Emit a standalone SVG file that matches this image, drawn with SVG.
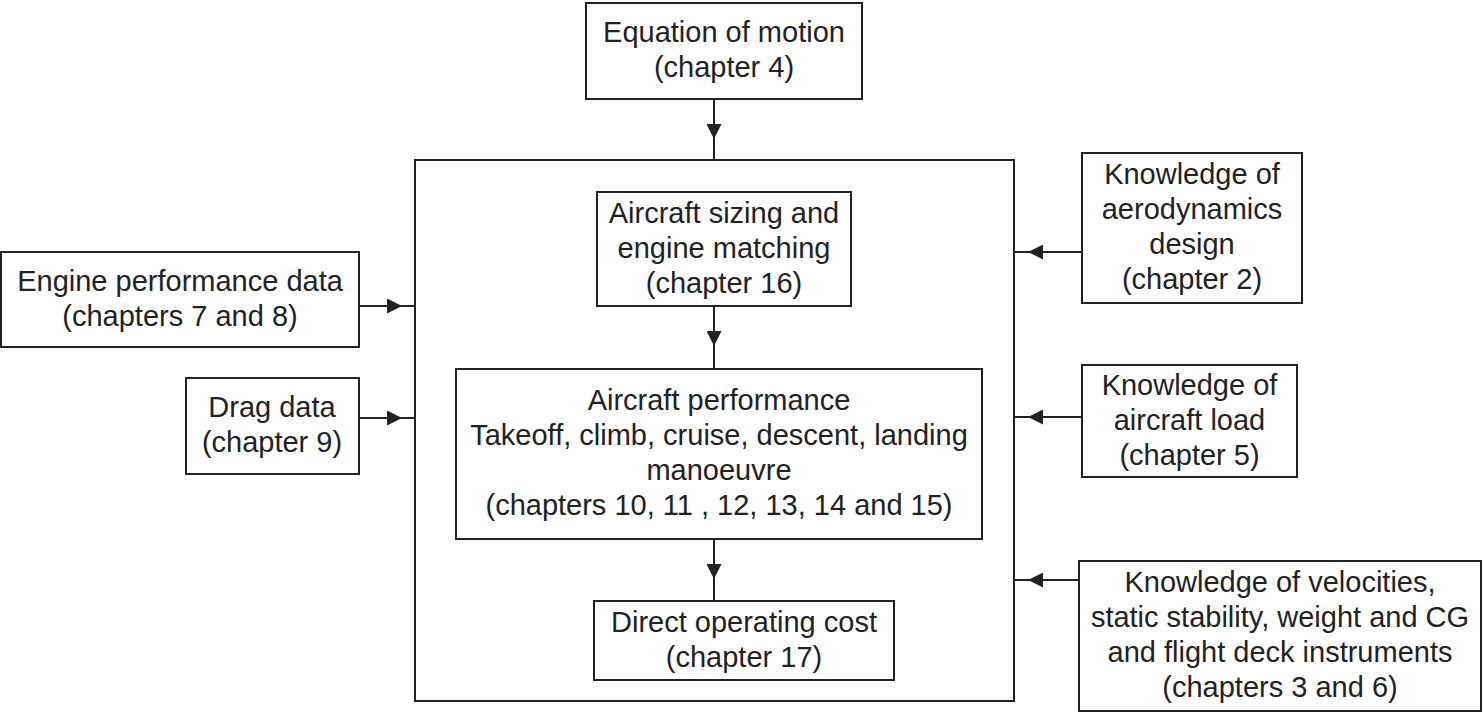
<svg xmlns="http://www.w3.org/2000/svg" width="1483" height="713" viewBox="0 0 1483 713">
<defs>
<style>
.box{fill:#fff;stroke:#222;stroke-width:2}
.t{font-family:"Liberation Sans",Arial,sans-serif;font-size:29px;fill:#222;text-anchor:middle}
.c{fill:none;stroke:#222;stroke-width:2;marker-mid:url(#ah)}
</style>
<marker id="ah" markerUnits="userSpaceOnUse" markerWidth="15" markerHeight="15" refX="15" refY="7.5" orient="auto" viewBox="0 0 15 15">
<path d="M0,0 L15,7.5 L0,15 z" fill="#222"/>
</marker>
</defs>
<rect width="1483" height="713" fill="#fff"/>
<g id="container"><rect x="415" y="160" width="599" height="541" fill="none" stroke="#222" stroke-width="2"/></g>
<g id="equation"><rect class="box" x="586" y="3" width="276" height="96"/>
<text class="t" x="724" y="42">Equation of motion</text><text class="t" x="724" y="77">(chapter 4)</text></g>
<g id="engine"><rect class="box" x="1" y="252" width="358" height="95"/>
<text class="t" x="180" y="291">Engine performance data</text><text class="t" x="180" y="326">(chapters 7 and 8)</text></g>
<g id="drag"><rect class="box" x="186" y="378" width="173" height="96"/>
<text class="t" x="272" y="417">Drag data</text><text class="t" x="272" y="452">(chapter 9)</text></g>
<g id="sizing"><rect class="box" x="597" y="192" width="254" height="114"/>
<text class="t" x="724" y="223">Aircraft sizing and</text><text class="t" x="724" y="258">engine matching</text><text class="t" x="724" y="293">(chapter 16)</text></g>
<g id="performance"><rect class="box" x="456" y="369" width="526" height="170"/>
<text class="t" x="719" y="410">Aircraft performance</text><text class="t" x="719" y="445">Takeoff, climb, cruise, descent, landing</text><text class="t" x="719" y="480">manoeuvre</text><text class="t" x="719" y="515">(chapters 10, 11 , 12, 13, 14 and 15)</text></g>
<g id="doc"><rect class="box" x="594" y="601" width="300" height="79"/>
<text class="t" x="744" y="632">Direct operating cost</text><text class="t" x="744" y="667">(chapter 17)</text></g>
<g id="aero"><rect class="box" x="1082" y="153" width="220" height="150"/>
<text class="t" x="1192" y="184">Knowledge of</text><text class="t" x="1192" y="219">aerodynamics</text><text class="t" x="1192" y="254">design</text><text class="t" x="1192" y="289">(chapter 2)</text></g>
<g id="load"><rect class="box" x="1082" y="365" width="215" height="112"/>
<text class="t" x="1189.5" y="395">Knowledge of</text><text class="t" x="1189.5" y="430">aircraft load</text><text class="t" x="1189.5" y="465">(chapter 5)</text></g>
<g id="velocities"><rect class="box" x="1079" y="561" width="402" height="150"/>
<text class="t" x="1280" y="592">Knowledge of velocities,</text><text class="t" x="1280" y="627">static stability, weight and CG</text><text class="t" x="1280" y="662">and flight deck instruments</text><text class="t" x="1280" y="697">(chapters 3 and 6)</text></g>
<g id="connectors">
<path class="c" d="M714,99 L714,139 L714,160"/>
<path class="c" d="M359,306 L402,306 L415,306"/>
<path class="c" d="M359,418 L402,418 L415,418"/>
<path class="c" d="M1082,252 L1028,252 L1014,252"/>
<path class="c" d="M1082,417 L1028,417 L1014,417"/>
<path class="c" d="M1079,580 L1028,580 L1014,580"/>
<path class="c" d="M714,306 L714,346 L714,369"/>
<path class="c" d="M714,539 L714,579 L714,601"/>
</g>
</svg>
